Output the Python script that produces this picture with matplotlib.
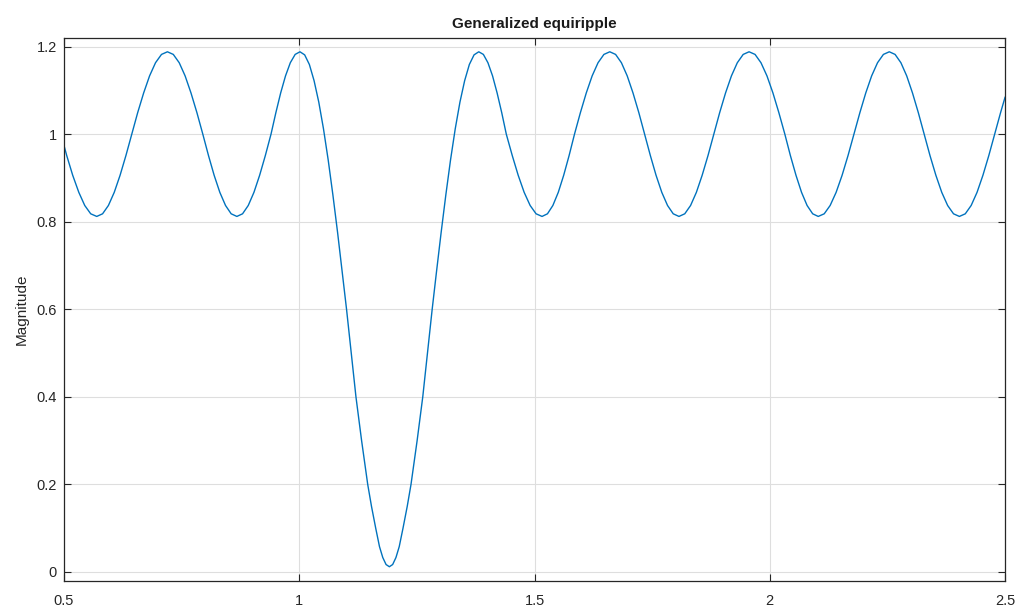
import numpy as np
from matplotlib import pyplot as plt

# Magnitude curve (frequency, magnitude)
freq = [0.5000, 0.5058, 0.5185, 0.5315, 0.5441, 0.5568, 0.5696,
        0.5820, 0.5944, 0.6068, 0.6192, 0.6316, 0.6440,
        0.6566, 0.6693, 0.6819, 0.6945, 0.7072, 0.7198,
        0.7323, 0.7449, 0.7574, 0.7699, 0.7825, 0.7950,
        0.8071, 0.8191, 0.8312, 0.8433, 0.8553, 0.8674,
        0.8795, 0.8916, 0.9037, 0.9158, 0.9279, 0.9400,
        0.9503, 0.9605, 0.9708, 0.9810, 0.9913, 1.0015,
        1.0115, 1.0215, 1.0315, 1.0415, 1.0515, 1.0615, 1.0715, 1.0815,
        1.0915, 1.1005, 1.1105, 1.1205, 1.1325, 1.1455, 1.1535, 1.1625,
        1.1705, 1.1775, 1.1845, 1.1915, 1.1985, 1.2055, 1.2125, 1.2205,
        1.2295, 1.2375, 1.2505, 1.2625, 1.2725, 1.2825, 1.2915, 1.3015,
        1.3115, 1.3215, 1.3315, 1.3415, 1.3515, 1.3615, 1.3715, 1.3815,
        1.3913, 1.4010, 1.4108, 1.4205, 1.4303, 1.4400,
        1.4527, 1.4653, 1.4780, 1.4907, 1.5033, 1.5160,
        1.5275, 1.5390, 1.5505, 1.5620, 1.5735, 1.5850,
        1.5975, 1.6100, 1.6225, 1.6350, 1.6475, 1.6600,
        1.6723, 1.6847, 1.6970, 1.7093, 1.7217, 1.7340,
        1.7462, 1.7583, 1.7705, 1.7827, 1.7948, 1.8070,
        1.8193, 1.8317, 1.8440, 1.8563, 1.8687, 1.8810,
        1.8935, 1.9060, 1.9185, 1.9310, 1.9435, 1.9560,
        1.9687, 1.9813, 1.9940, 2.0067, 2.0193, 2.0320,
        2.0438, 2.0557, 2.0675, 2.0793, 2.0912, 2.1030,
        2.1157, 2.1283, 2.1410, 2.1537, 2.1663, 2.1790,
        2.1915, 2.2040, 2.2165, 2.2290, 2.2415, 2.2540,
        2.2663, 2.2787, 2.2910, 2.3033, 2.3157, 2.3280,
        2.3405, 2.3530, 2.3655, 2.3780, 2.3905, 2.4030,
        2.4155, 2.4280, 2.4405, 2.4530, 2.4655, 2.4780,
        2.4905, 2.5000]

magnitude = [0.974, 0.951, 0.906, 0.867, 0.837, 0.818, 0.812,
             0.818, 0.837, 0.867, 0.906, 0.951, 1.000,
             1.049, 1.094, 1.133, 1.163, 1.182, 1.188,
             1.182, 1.163, 1.133, 1.094, 1.049, 1.000,
             0.951, 0.906, 0.867, 0.837, 0.818, 0.812,
             0.818, 0.837, 0.867, 0.906, 0.951, 1.000,
             1.049, 1.094, 1.133, 1.163, 1.182, 1.188,
             1.181, 1.159, 1.122, 1.073, 1.012, 0.941, 0.861, 0.775,
             0.684, 0.600, 0.500, 0.400, 0.300, 0.200, 0.150, 0.100,
             0.058, 0.033, 0.017, 0.012, 0.017, 0.033, 0.058, 0.100,
             0.150, 0.200, 0.300, 0.400, 0.500, 0.600, 0.684, 0.775,
             0.861, 0.941, 1.012, 1.073, 1.122, 1.159, 1.181, 1.188,
             1.182, 1.163, 1.133, 1.094, 1.049, 1.000,
             0.951, 0.906, 0.867, 0.837, 0.818, 0.812,
             0.818, 0.837, 0.867, 0.906, 0.951, 1.000,
             1.049, 1.094, 1.133, 1.163, 1.182, 1.188,
             1.182, 1.163, 1.133, 1.094, 1.049, 1.000,
             0.951, 0.906, 0.867, 0.837, 0.818, 0.812,
             0.818, 0.837, 0.867, 0.906, 0.951, 1.000,
             1.049, 1.094, 1.133, 1.163, 1.182, 1.188,
             1.182, 1.163, 1.133, 1.094, 1.049, 1.000,
             0.951, 0.906, 0.867, 0.837, 0.818, 0.812,
             0.818, 0.837, 0.867, 0.906, 0.951, 1.000,
             1.049, 1.094, 1.133, 1.163, 1.182, 1.188,
             1.182, 1.163, 1.133, 1.094, 1.049, 1.000,
             0.951, 0.906, 0.867, 0.837, 0.818, 0.812,
             0.818, 0.837, 0.867, 0.906, 0.951, 1.000,
             1.049, 1.084]

x_ticks = [0.5, 1, 1.5, 2, 2.5]
x_labels = ['0.5', '1', '1.5', '2', '2.5']
y_ticks = [0, 0.2, 0.4, 0.6, 0.8, 1, 1.2]
y_labels = ['0', '0.2', '0.4', '0.6', '0.8', '1', '1.2']

plt.rcParams['font.family'] = ['Liberation Sans', 'DejaVu Sans']

#MATLAB-looking figure
fig = plt.figure(figsize=(10.19, 6.08), dpi=100)
ax = fig.add_axes([0.0628, 0.0444, 0.9235, 0.8939])

ax.plot(freq, magnitude, color='#0072BD', linewidth=1.0)

ax.set_xlim(0.5, 2.5)
ax.set_ylim(-0.0206, 1.2206)
ax.set_xticks(x_ticks)
ax.set_xticklabels(x_labels)
ax.set_yticks(y_ticks)
ax.set_yticklabels(y_labels)

ax.grid(True, color='#dedede', linewidth=0.8)
ax.set_axisbelow(True)
for s in ax.spines.values():
    s.set_color('#262626')
    s.set_linewidth(0.9)

ax.tick_params(axis='both', direction='in', length=5, width=0.8,
               colors='#262626', labelsize=10.5, top=True, right=True)
ax.tick_params(axis='x', pad=9)
ax.tick_params(axis='y', pad=5)

ax.set_ylabel('Magnitude', fontsize=11, color='#262626', labelpad=6)
ax.set_title('Generalized equiripple', fontsize=11, fontweight='bold',
             color='#1a1a1a', pad=7)

plt.savefig('out.png', dpi=100)
